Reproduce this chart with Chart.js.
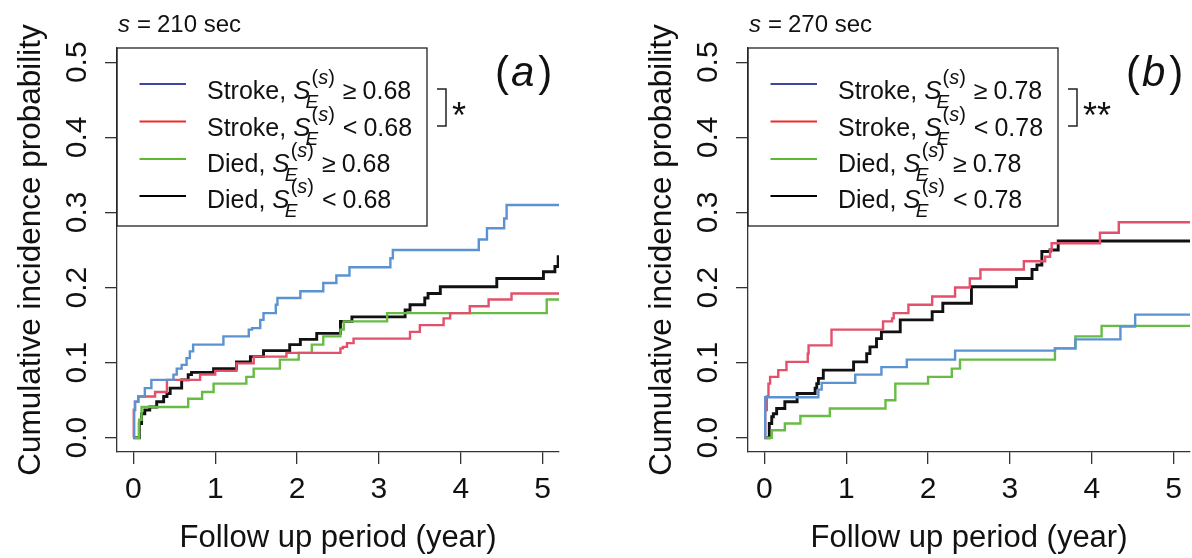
<!DOCTYPE html>
<html><head><meta charset="utf-8">
<script src="https://cdn.jsdelivr.net/npm/chart.js@4.4.1/dist/chart.umd.min.js"></script>
<style>
html,body{margin:0;padding:0;background:#fff;}
body{width:1192px;height:558px;overflow:hidden;position:relative;}
#ca{position:absolute;left:0;top:0;}
#cb{position:absolute;left:631px;top:0;}
</style></head>
<body>
<canvas id="ca" width="631" height="558"></canvas>
<canvas id="cb" width="561" height="558"></canvas>
<script>
// ---------- data ----------
const xTickValues = [0, 1, 2, 3, 4, 5];
const yTickValues = [0, 0.1, 0.2, 0.3, 0.4, 0.5];
const xTitle = 'Follow up period (year)';
const yTitle = 'Cumulative incidence probability';

// Panel (a): s = 210 sec, threshold 0.68
const aStrokeHiT = [0, 0.01, 0.02, 0.06, 0.14, 0.22, 0.49, 0.53, 0.59, 0.65, 0.69, 0.73, 1.10, 1.41, 1.45, 1.55, 1.59, 1.74, 1.76, 2.04, 2.32, 2.48, 2.64, 3.14, 3.17, 4.22, 4.32, 4.53, 4.56, 5.2];
const aStrokeHiV = [0, 0.037, 0.048, 0.055, 0.066, 0.077, 0.084, 0.092, 0.097, 0.106, 0.115, 0.124, 0.135, 0.144, 0.146, 0.157, 0.166, 0.177, 0.186, 0.195, 0.206, 0.216, 0.227, 0.239, 0.250, 0.264, 0.279, 0.292, 0.310, 0.310];
const aStrokeLoT = [0, 0.005, 0.02, 0.06, 0.265, 0.41, 0.815, 1.00, 1.26, 1.47, 1.87, 2.53, 2.56, 2.61, 2.69, 3.38, 3.50, 3.79, 3.87, 4.11, 4.34, 4.62, 5.2];
const aStrokeLoV = [0, 0.037, 0.048, 0.055, 0.061, 0.077, 0.084, 0.089, 0.099, 0.108, 0.113, 0.119, 0.121, 0.126, 0.132, 0.141, 0.150, 0.159, 0.166, 0.175, 0.184, 0.192, 0.192];
const aDiedHiT = [0, 0.06, 0.07, 0.10, 0.67, 0.84, 0.98, 1.38, 1.47, 1.79, 2.02, 2.18, 2.32, 2.53, 2.57, 3.10, 5.05, 5.2];
const aDiedHiV = [0, 0.000, 0.024, 0.041, 0.052, 0.061, 0.072, 0.081, 0.092, 0.104, 0.113, 0.124, 0.135, 0.144, 0.155, 0.166, 0.184, 0.184];
const aDiedLoT = [0, 0.073, 0.10, 0.14, 0.20, 0.285, 0.37, 0.41, 0.45, 0.59, 0.67, 0.71, 0.98, 1.26, 1.43, 1.59, 1.91, 2.04, 2.24, 2.53, 2.67, 3.32, 3.38, 3.56, 3.60, 3.75, 4.44, 5.01, 5.15, 5.19, 5.2];
const aDiedLoV = [0, 0.019, 0.032, 0.037, 0.041, 0.048, 0.055, 0.059, 0.066, 0.077, 0.084, 0.087, 0.092, 0.101, 0.108, 0.116, 0.124, 0.131, 0.139, 0.155, 0.161, 0.170, 0.177, 0.186, 0.192, 0.201, 0.212, 0.221, 0.228, 0.241, 0.241];

// Panel (b): s = 270 sec, threshold 0.78
const bStrokeHiT = [0, 0.01, 0.66, 0.70, 1.11, 1.43, 1.74, 2.33, 3.55, 3.80, 4.35, 4.53, 5.2];
const bStrokeHiV = [0, 0.054, 0.064, 0.073, 0.084, 0.094, 0.104, 0.116, 0.119, 0.131, 0.148, 0.164, 0.164];
const bStrokeLoT = [0, 0.01, 0.03, 0.05, 0.07, 0.17, 0.27, 0.53, 0.54, 0.82, 1.45, 1.56, 1.58, 1.76, 2.05, 2.33, 2.51, 2.64, 3.17, 3.43, 3.49, 3.51, 4.10, 4.33, 5.2];
const bStrokeLoV = [0, 0.037, 0.055, 0.072, 0.081, 0.090, 0.101, 0.112, 0.123, 0.144, 0.155, 0.159, 0.166, 0.177, 0.188, 0.200, 0.212, 0.224, 0.235, 0.241, 0.250, 0.259, 0.273, 0.287, 0.287];
const bDiedHiT = [0, 0.09, 0.25, 0.44, 0.80, 1.48, 1.60, 2.00, 2.29, 2.39, 3.55, 3.80, 4.12, 5.2];
const bDiedHiV = [0, 0.010, 0.019, 0.029, 0.039, 0.050, 0.072, 0.081, 0.092, 0.104, 0.119, 0.135, 0.149, 0.149];
const bDiedLoT = [0, 0.06, 0.09, 0.11, 0.15, 0.25, 0.40, 0.62, 0.64, 0.66, 0.72, 1.09, 1.25, 1.29, 1.37, 1.43, 1.66, 2.05, 2.18, 2.53, 3.08, 3.27, 3.33, 3.39, 3.49, 3.59, 5.2];
const bDiedLoV = [0, 0.019, 0.028, 0.032, 0.039, 0.048, 0.059, 0.066, 0.072, 0.079, 0.090, 0.101, 0.112, 0.121, 0.132, 0.141, 0.157, 0.168, 0.179, 0.201, 0.212, 0.224, 0.230, 0.248, 0.250, 0.262, 0.262];

const groupNames = ['Stroke', 'Stroke', 'Died', 'Died'];
const relations = ['\u2265', '<', '\u2265', '<'];
const panelA = {label: 'a', s: '210 sec', thr: '0.68', sig: '*'};
const panelB = {label: 'b', s: '270 sec', thr: '0.78', sig: '**'};

// ---------- styles ----------
const FONT = "'Liberation Sans', Arial, Helvetica, sans-serif";
const curveColors = ['#5B92D2', '#E2506B', '#68BC44', '#111111'];
const curveWidths = [2.4, 2.4, 2.4, 2.9];
const legendColors = ['#3E46A0', '#EE2C2C', '#5CB82E', '#000000'];
const INK = '#111';

function series(tArr, vArr) { return tArr.map((t, i) => ({x: t, y: vArr[i]})); }

function decorPlugin(p) {
  return {
    id: 'decor' + p.label,
    afterDraw(chart) {
      const ctx = chart.ctx;
      const L = chart.chartArea.left, T = chart.chartArea.top;
      ctx.save();
      ctx.fillStyle = INK; ctx.strokeStyle = '#222';
      ctx.textBaseline = 'alphabetic'; ctx.textAlign = 'left';
      // title "s = 210 sec"
      let x = L + 1;
      ctx.font = 'italic 24px ' + FONT; ctx.fillText('s', x, 32); x += ctx.measureText('s').width + 7;
      ctx.font = '24px ' + FONT; ctx.fillText('=', x, 32); x += ctx.measureText('=').width + 6;
      ctx.fillText(p.s, x, 32);
      // legend box
      ctx.lineWidth = 1.3;
      ctx.strokeRect(L, T, 310, 178);
      const lineY = [36, 73.5, 111, 148];
      const baseY = [51, 87.5, 124, 160];
      for (let i = 0; i < 4; i++) {
        ctx.strokeStyle = legendColors[i]; ctx.lineWidth = 2;
        ctx.beginPath(); ctx.moveTo(L + 22.5, T + lineY[i]); ctx.lineTo(L + 69, T + lineY[i]); ctx.stroke();
        let tx = L + 90; const yb = T + baseY[i];
        ctx.fillStyle = INK;
        ctx.font = '25px ' + FONT; const pre = groupNames[i] + ', ';
        ctx.fillText(pre, tx, yb); tx += ctx.measureText(pre).width;
        ctx.font = 'italic 26px ' + FONT; ctx.fillText('S', tx, yb); tx += ctx.measureText('S').width;
        // subscript E
        ctx.font = 'italic 19px ' + FONT; ctx.fillText('E', tx - 5, yb + 9);
        // superscript (s)
        let sx = tx + 1;
        ctx.font = '20px ' + FONT; ctx.fillText('(', sx, yb - 15); sx += ctx.measureText('(').width;
        ctx.font = 'italic 20px ' + FONT; ctx.fillText('s', sx, yb - 15); sx += ctx.measureText('s').width;
        ctx.font = '20px ' + FONT; ctx.fillText(')', sx, yb - 15); sx += ctx.measureText(')').width;
        ctx.font = '25px ' + FONT;
        let rx = sx + 8;
        ctx.fillText(relations[i], rx, yb); rx += ctx.measureText(relations[i]).width + 6;
        ctx.fillText(p.thr, rx, yb);
      }
      // bracket + significance stars
      ctx.strokeStyle = '#222'; ctx.lineWidth = 1.5;
      ctx.beginPath();
      ctx.moveTo(L + 320, T + 41); ctx.lineTo(L + 329, T + 41); ctx.lineTo(L + 329, T + 78); ctx.lineTo(L + 320, T + 78);
      ctx.stroke();
      ctx.font = '36px ' + FONT; ctx.fillStyle = INK;
      ctx.fillText(p.sig, L + 335, T + 80);
      // panel label (a)
      let px = L + 378; const pb = 86;
      ctx.font = '42px ' + FONT; ctx.fillText('(', px, pb); px += ctx.measureText('(').width + 2;
      ctx.font = 'italic 42px ' + FONT; ctx.fillText(p.label, px, pb); px += ctx.measureText(p.label).width + 4;
      ctx.font = '42px ' + FONT; ctx.fillText(')', px, pb);
      ctx.restore();
    }
  };
}

function makeChart(id, p, data, padRight, yWidth) {
  return new Chart(document.getElementById(id), {
    type: 'line',
    data: {
      datasets: data.map((d, i) => ({
        label: groupNames[i] + relations[i] + p.thr,
        data: d,
        borderColor: curveColors[i],
        borderWidth: curveWidths[i],
        stepped: 'before',
        pointRadius: 0,
        fill: false,
        tension: 0
      }))
    },
    options: {
      responsive: false,
      animation: false,
      devicePixelRatio: 1,
      layout: {padding: {left: 0, top: 48, right: padRight, bottom: 0}},
      plugins: {legend: {display: false}, tooltip: {enabled: false}, title: {display: false}},
      scales: {
        x: {
          type: 'linear', min: -0.2, max: 5.2,
          afterBuildTicks: s => { s.ticks = xTickValues.map(v => ({value: v})); },
          afterFit: s => { s.height = 106; },
          grid: {drawOnChartArea: false, drawTicks: true, tickLength: 12, color: '#333', lineWidth: 1.3},
          border: {display: true, color: '#333', width: 1.3},
          ticks: {font: {family: FONT, size: 30}, color: INK, padding: 8, maxRotation: 0, autoSkip: false},
          title: {display: true, text: xTitle, font: {family: FONT, size: 31}, color: INK, padding: {top: 0, bottom: 1}}
        },
        y: {
          type: 'linear', min: -0.019, max: 0.519,
          afterBuildTicks: s => { s.ticks = yTickValues.map(v => ({value: v})); },
          afterFit: s => { s.width = yWidth; },
          grid: {drawOnChartArea: false, drawTicks: true, tickLength: 12, color: '#333', lineWidth: 1.3},
          border: {display: true, color: '#333', width: 1.3},
          ticks: {font: {family: FONT, size: 30}, color: INK, padding: 6, minRotation: 90, maxRotation: 90,
                  crossAlign: 'center', callback: v => Number(v).toFixed(1)},
          title: {display: true, text: yTitle, font: {family: FONT, size: 31.5}, color: INK, padding: {top: 12, bottom: 0}}
        }
      }
    },
    plugins: [decorPlugin(p)]
  });
}

makeChart('ca', panelA, [
  series(aStrokeHiT, aStrokeHiV), series(aStrokeLoT, aStrokeLoV),
  series(aDiedHiT, aDiedHiV), series(aDiedLoT, aDiedLoV)
], 72, 117);
makeChart('cb', panelB, [
  series(bStrokeHiT, bStrokeHiV), series(bStrokeLoT, bStrokeLoV),
  series(bDiedHiT, bDiedHiV), series(bDiedLoT, bDiedLoV)
], 2, 117);
</script>
</body></html>
